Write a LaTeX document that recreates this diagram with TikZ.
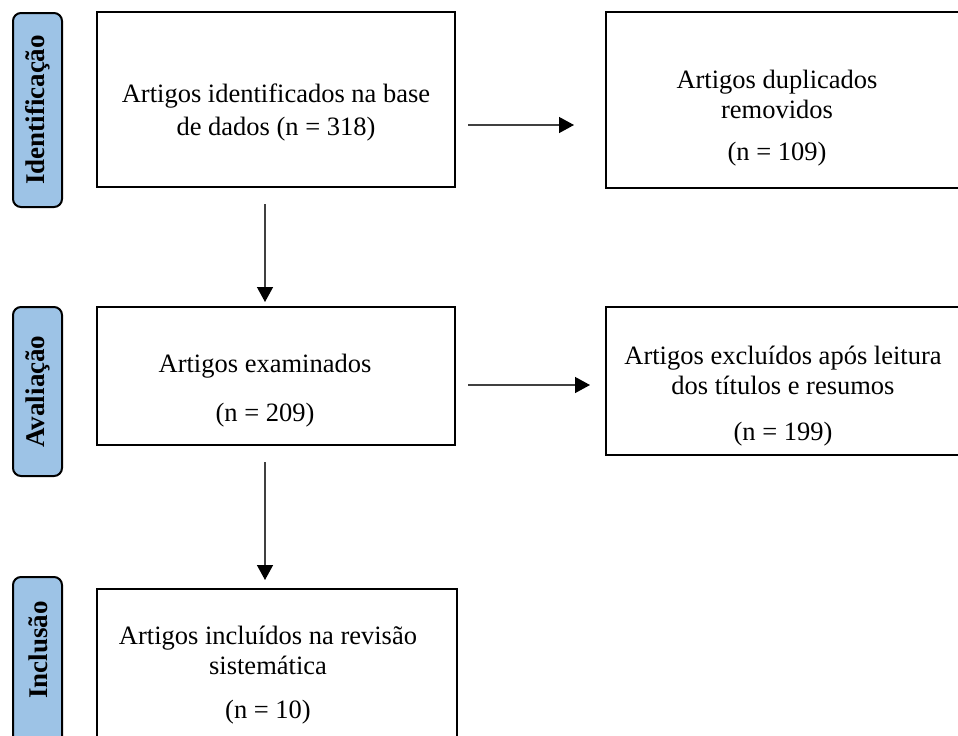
\documentclass[tikz,border=0pt]{standalone}
\usepackage{fontspec}
\setmainfont{Liberation Serif}
\usetikzlibrary{arrows.meta,fit}
\definecolor{phaseblue}{RGB}{157,195,230}

\begin{document}
\begin{tikzpicture}[
    x=0.5pt, y=-0.5pt,
    font=\fontsize{13.25}{16.5}\selectfont,
    box/.style={draw, line width=1pt, inner sep=0pt},
    phase/.style={draw, line width=1pt, rounded corners=4pt, fill=phaseblue, inner sep=0pt},
    phasetext/.style={rotate=90, font=\fontsize{13.5}{16}\selectfont\bfseries},
    boxtext/.style={align=center},
    tighttext/.style={boxtext, font=\fontsize{13.25}{15}\selectfont},
    arrow/.style={-{Triangle[length=7.5pt, width=8pt, color=black]}, draw=black!75, line width=0.7pt}
]
\clip (0,0) rectangle (958,735);
% phase labels
\node[phase, fit={(13,13) (62,207)}] (pident) {};
\node[phasetext] (tident) at (pident.center) {Identificação};
\node[phase, fit={(13,307) (62,476)}] (pavali) {};
\node[phasetext] (tavali) at (pavali.center) {Avaliação};
\node[phase, fit={(13,577) (62,760)}] (pinclu) {};
\node[phasetext] (tinclu) at (38,650) {Inclusão};
% boxes
\node[box, fit={(97,12) (455,187)}] (ident) {};
\node[boxtext] (identtxt) at (276,112) {Artigos identificados na base\\de dados (n = 318)};
\node[box, fit={(606,12) (960,188)}] (dupl) {};
\node[tighttext] (dupltxt) at (777,118) {Artigos duplicados\\removidos\\[6pt](n = 109)};
\node[box, fit={(97,307) (455,445)}] (exam) {};
\node[boxtext] (examtxt) at (265,391) {Artigos examinados\\[8pt](n = 209)};
\node[box, fit={(606,307) (960,455)}] (excl) {};
\node[tighttext] (excltxt) at (783,396) {Artigos excluídos após leitura\\dos títulos e resumos\\[8pt](n = 199)};
\node[box, fit={(97,589) (457,760)}] (incl) {};
\node[tighttext] (incltxt) at (268,675) {Artigos incluídos na revisão\\sistemática\\[7pt](n = 10)};
% connectors
\coordinate (r1s) at (468,125);
\coordinate (r1e) at (574,125);
\coordinate (r2s) at (468,385);
\coordinate (r2e) at (590,385);
\coordinate (d1s) at (265,204);
\coordinate (d1e) at (265,302);
\coordinate (d2s) at (265,462);
\coordinate (d2e) at (265,580);
\draw[arrow] (r1s) -- (r1e);
\draw[arrow] (r2s) -- (r2e);
\draw[arrow] (d1s) -- (d1e);
\draw[arrow] (d2s) -- (d2e);
\end{tikzpicture}
\end{document}
